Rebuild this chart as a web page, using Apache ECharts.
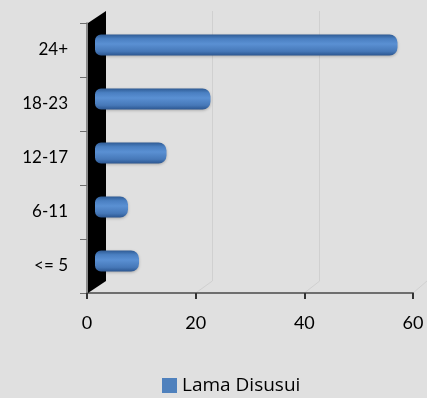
<!DOCTYPE html>
<html>
<head>
<meta charset="utf-8">
<script src="https://cdn.jsdelivr.net/npm/echarts@6/dist/echarts.min.js"></script>
<style>
  html, body { margin: 0; padding: 0; background: #e0e0e0; }
  #chart { width: 427px; height: 398px; }
</style>
</head>
<body>
<div id="chart"></div>
<script>
const categories = ['<= 5', '6-11', '12-17', '18-23', '24+'];
const values = [8, 6, 13, 21, 55];
const seriesName = 'Lama Disusui';
const xTicks = [0, 20, 40, 60];

const chart = echarts.init(document.getElementById('chart'));

// cylinder look: darker rims, lighter middle
const barFill = new echarts.graphic.LinearGradient(0, 0, 0, 1, [
  {offset: 0, color: '#2f5b94'},
  {offset: 0.2, color: '#4a7fc1'},
  {offset: 0.45, color: '#5a90d3'},
  {offset: 0.8, color: '#4678b8'},
  {offset: 1, color: '#2c5690'}
]);

const option = {
  backgroundColor: '#e0e0e0',
  animation: false,
  textStyle: {fontFamily: 'Lato, "Open Sans", sans-serif'},
  grid: [
    // front axes
    {left: 87, right: 14, top: 23, bottom: 105},
    // bars (middle depth)
    {left: 95, width: 330, top: 18, height: 270},
    // back wall gridlines
    {left: 105, width: 335, top: 11, height: 270}
  ],
  xAxis: [
    {
      gridIndex: 0, type: 'value', min: xTicks[0], max: xTicks[xTicks.length - 1], interval: 20,
      axisLine: {show: true, lineStyle: {color: '#6e6e6e', width: 2}},
      axisTick: {show: true, length: 6, lineStyle: {color: '#333', width: 2}},
      axisLabel: {color: '#000', fontSize: 18, margin: 21},
      splitLine: {show: false}
    },
    {
      gridIndex: 1, type: 'value', min: 0, max: 60, show: false
    },
    {
      gridIndex: 2, type: 'value', min: 0, max: 60, interval: 20,
      axisLine: {show: false}, axisTick: {show: false}, axisLabel: {show: false},
      splitLine: {show: true, lineStyle: {color: '#d0d0d0', width: 1}}
    }
  ],
  yAxis: [
    {
      gridIndex: 0, type: 'category', data: categories,
      axisLine: {show: true, lineStyle: {color: '#6e6e6e', width: 1.5}},
      axisTick: {show: true, length: 7, lineStyle: {color: '#6e6e6e'}},
      axisLabel: {color: '#000', fontSize: 17, margin: 19}
    },
    {gridIndex: 1, type: 'category', data: categories, show: false},
    {gridIndex: 2, type: 'category', data: categories, show: false}
  ],
  legend: {
    data: [seriesName],
    left: 157, top: 371,
    itemWidth: 15, itemHeight: 15, itemGap: 8,
    icon: 'rect',
    itemStyle: {color: '#4f81bd'},
    textStyle: {color: '#000', fontSize: 19, fontFamily: '"Open Sans", sans-serif'}
  },
  series: [
    {
      name: seriesName,
      type: 'bar',
      xAxisIndex: 1, yAxisIndex: 1,
      data: values,
      barWidth: 21,
      z: 5,
      itemStyle: {
        color: barFill,
        borderRadius: [6, 8, 8, 6],
        shadowColor: 'rgba(0,0,0,0.25)', shadowBlur: 3, shadowOffsetY: 1
      }
    }
  ]
};
chart.setOption(option);

// side wall and floor lines, placed from the axes
function drawWall() {
  const fx0 = chart.convertToPixel({xAxisIndex: 0}, 0);
  const bx0 = chart.convertToPixel({xAxisIndex: 2}, 0);
  const g0 = chart.getModel().getComponent('grid', 0).coordinateSystem.getRect();
  const g2 = chart.getModel().getComponent('grid', 2).coordinateSystem.getRect();
  const elems = [{
    type: 'polygon', z: 1,
    shape: {points: [
      [fx0 + 1, g0.y], [bx0 + 1, g2.y], [bx0 + 1, g2.y + g2.height], [fx0 + 1, g0.y + g0.height]
    ]},
    style: {fill: '#000'}
  }];
  xTicks.slice(1).forEach(function (t) {
    const fx = chart.convertToPixel({xAxisIndex: 0}, t);
    const bx = chart.convertToPixel({xAxisIndex: 2}, t);
    elems.push({
      type: 'line', z: 0,
      shape: {x1: bx, y1: g2.y + g2.height, x2: fx, y2: g0.y + g0.height},
      style: {stroke: '#d0d0d0', lineWidth: 1}
    });
  });
  chart.setOption({graphic: elems});
}
drawWall();
</script>
</body>
</html>
